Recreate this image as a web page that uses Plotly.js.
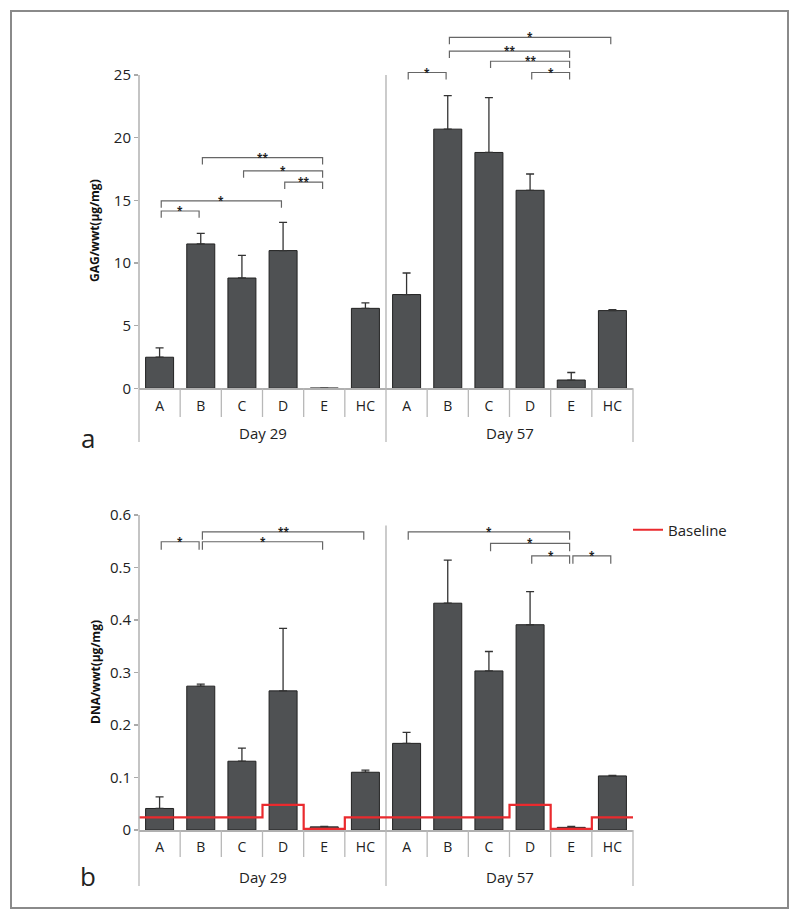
<!DOCTYPE html>
<html>
<head>
<meta charset="utf-8">
<script src="https://cdn.plot.ly/plotly-3.0.1.min.js"></script>
<style>html,body{margin:0;padding:0;background:#fff;}#chart{width:800px;height:920px;}</style>
</head>
<body>
<div id="chart"></div>
<script>
// ---------- data ----------
const groups = ['Day 29', 'Day 57'];
const categories = ['A', 'B', 'C', 'D', 'E', 'HC'];

const gagDay29 = [2.48, 11.52, 8.8, 10.99, 0.02, 6.38];
const gagDay29Err = [0.75, 0.85, 1.8, 2.25, 0.0, 0.43];
const gagDay57 = [7.48, 20.68, 18.82, 15.8, 0.66, 6.2];
const gagDay57Err = [1.72, 2.67, 4.37, 1.3, 0.6, 0.08];

const dnaDay29 = [0.041, 0.274, 0.131, 0.265, 0.006, 0.110];
const dnaDay29Err = [0.022, 0.004, 0.025, 0.119, 0.001, 0.004];
const dnaDay57 = [0.165, 0.432, 0.303, 0.391, 0.005, 0.103];
const dnaDay57Err = [0.021, 0.082, 0.037, 0.063, 0.002, 0.001];

const baselineByCategory = [0.024, 0.024, 0.024, 0.048, 0.002, 0.024];

// significance brackets: [group index, from, to, level, label]
const gagBrackets = [
  [0, 'A', 'B', 14.15, '*'],
  [0, 'A', 'D', 14.95, '*'],
  [0, 'D', 'E', 16.45, '**'],
  [0, 'C', 'E', 17.35, '*'],
  [0, 'B', 'E', 18.4, '**'],
  [1, 'A', 'B', 25.2, '*'],
  [1, 'D', 'E', 25.2, '*'],
  [1, 'C', 'E', 26.1, '**'],
  [1, 'B', 'E', 26.9, '**'],
  [1, 'B', 'HC', 28.0, '*']
];
const dnaBrackets = [
  [0, 'A', 'B', 0.549, '*'],
  [0, 'B', 'E', 0.549, '*'],
  [0, 'B', 'HC', 0.568, '**'],
  [1, 'A', 'E', 0.568, '*'],
  [1, 'C', 'E', 0.546, '*'],
  [1, 'D', 'E', 0.522, '*'],
  [1, 'E', 'HC', 0.522, '*']
];

// ---------- layout helpers ----------
const W = 800, H = 920;
const px = v => v / W;
const py = v => 1 - v / H;
const FONT = 'Open Sans, sans-serif';
const nCat = categories.length;
const nAll = nCat * groups.length;
const xDom = [px(139), px(633)];
const xRange = [-0.5, nAll - 0.5];
const pos = (g, c) => g * nCat + categories.indexOf(c);
const allX = [];
groups.forEach((g, gi) => categories.forEach((c, ci) => allX.push(gi * nCat + ci)));
const xPaper = b => xDom[0] + (b - xRange[0]) / (xRange[1] - xRange[0]) * (xDom[1] - xDom[0]);

const barStyle = {color: '#4f5153', line: {color: '#222', width: 1}};
const errStyle = {type: 'data', symmetric: false, color: '#333', thickness: 1.3, width: 4};

function barTrace(vals, errs, xa, ya) {
  return {
    type: 'bar', x: allX, y: vals, xaxis: xa, yaxis: ya, width: 0.68,
    marker: barStyle, showlegend: false, hoverinfo: 'y',
    error_y: Object.assign({}, errStyle, {array: errs, arrayminus: errs.map(() => 0)})
  };
}

const baseAll = baselineByCategory.concat(baselineByCategory);
const traces = [
  barTrace(gagDay29.concat(gagDay57), gagDay29Err.concat(gagDay57Err), 'x', 'y'),
  barTrace(dnaDay29.concat(dnaDay57), dnaDay29Err.concat(dnaDay57Err), 'x2', 'y2'),
  {
    type: 'scatter', mode: 'lines', name: 'Baseline', xaxis: 'x2', yaxis: 'y2',
    x: [xRange[0]].concat(allX, [xRange[1]]),
    y: [baseAll[0]].concat(baseAll, [baseAll[baseAll.length - 1]]),
    line: {color: '#ea2a2e', width: 2.2, shape: 'hvh'}
  }
];

const shapes = [];
const annotations = [];

// outer frame
shapes.push({type: 'rect', xref: 'paper', yref: 'paper', x0: px(11), x1: px(788), y0: py(11), y1: py(908),
  line: {color: '#8a8a8a', width: 2}});

function panel(ya, yTop, zeroPx, catLabelPx, dayPx, letter, letterPx, brackets, tick, divTop, title, titleCenterPx) {
  const xa = 'x' + (ya === 'y' ? '' : '2');
  // y axis line (0 .. top label)
  shapes.push({type: 'line', xref: 'paper', yref: ya, x0: xDom[0], x1: xDom[0], y0: 0, y1: yTop,
    line: {color: '#b0b0b0', width: 1.5}});
  // group divider inside plot
  shapes.push({type: 'line', xref: xa, yref: ya, x0: nCat - 0.5, x1: nCat - 0.5, y0: 0, y1: divTop,
    line: {color: '#b0b0b0', width: 1.3}, layer: 'below'});
  // category dividers below the axis
  for (let b = 0; b <= nAll; b++) {
    const isGroup = b % nCat === 0;
    const bottom = isGroup ? dayPx + 9 : catLabelPx + 13;
    shapes.push({type: 'line', xref: 'paper', yref: 'paper', x0: xPaper(b - 0.5), x1: xPaper(b - 0.5),
      y0: py(zeroPx), y1: py(bottom), line: {color: '#b8b8b8', width: 1.3}});
  }
  // group labels
  groups.forEach((g, gi) => annotations.push({
    xref: xa, yref: 'paper', x: gi * nCat + (nCat - 1) / 2, y: py(dayPx),
    text: g, showarrow: false, yanchor: 'middle', font: {family: FONT, size: 15, color: '#222'}
  }));
  // panel letter
  annotations.push({xref: 'paper', yref: 'paper', x: px(88), y: py(letterPx), text: letter, showarrow: false,
    xanchor: 'center', yanchor: 'middle', font: {family: FONT, size: 26, color: '#222'}});
  // y title
  annotations.push({xref: 'paper', yref: 'paper', x: px(95), y: py(titleCenterPx), text: '<b>' + title + '</b>',
    textangle: -90, showarrow: false, xanchor: 'center', yanchor: 'middle', font: {family: FONT, size: 12, color: '#111'}});
  // significance brackets
  brackets.forEach(([g, a, b, lvl, lab]) => {
    const x1 = pos(g, a) + 0.04, x2 = pos(g, b) - 0.04;
    shapes.push({type: 'path', xref: xa, yref: ya,
      path: `M ${x1} ${lvl - tick} L ${x1} ${lvl} L ${x2} ${lvl} L ${x2} ${lvl - tick}`,
      line: {color: '#666', width: 1.2}});
    annotations.push({xref: xa, yref: ya, x: (x1 + x2) / 2, y: lvl, text: '<b>' + lab + '</b>', showarrow: false,
      yanchor: 'middle', yshift: 1, font: {family: FONT, size: 10, color: '#222'}});
  });
}

panel('y', 25, 388.3, 404, 433, 'a', 438, gagBrackets, 0.55, 25, 'GAG/wwt(μg/mg)', 231);
panel('y2', 0.6, 830, 844, 877, 'b', 876, dnaBrackets, 0.015, 0.58, 'DNA/wwt(μg/mg)', 672);

const xCommon = {
  domain: xDom, range: xRange, tickvals: allX, ticktext: allX.map(i => categories[i % nCat]),
  ticks: '', showgrid: false, zeroline: false, showline: true, linecolor: '#b0b0b0', linewidth: 1.5,
  tickfont: {family: FONT, size: 14, color: '#222'}, ticklabelstandoff: 4, fixedrange: true
};
const yCommon = {
  showgrid: false, zeroline: false, showline: false, ticks: 'outside', ticklen: 4, tickcolor: '#aaa',
  tickwidth: 1.2, tickfont: {family: FONT, size: 15, color: '#222'}, fixedrange: true
};

const layout = {
  width: W, height: H, margin: {l: 0, r: 0, t: 0, b: 0},
  paper_bgcolor: '#fff', plot_bgcolor: 'rgba(0,0,0,0)',
  font: {family: FONT},
  xaxis: Object.assign({}, xCommon, {anchor: 'y'}),
  yaxis: Object.assign({}, yCommon, {anchor: 'x', domain: [py(388.3), py(29.9)], range: [0, 28.6],
    tickvals: [0, 5, 10, 15, 20, 25]}),
  xaxis2: Object.assign({}, xCommon, {anchor: 'y2'}),
  yaxis2: Object.assign({}, yCommon, {anchor: 'x2', domain: [py(830), py(515)], range: [0, 0.6],
    tickvals: [0, 0.1, 0.2, 0.3, 0.4, 0.5, 0.6]}),
  showlegend: true,
  legend: {x: px(628), y: py(530), xanchor: 'left', yanchor: 'middle', bgcolor: 'rgba(0,0,0,0)',
    font: {family: FONT, size: 15, color: '#222'}},
  shapes: shapes,
  annotations: annotations,
  bargap: 0.3
};

Plotly.newPlot('chart', traces, layout, {displayModeBar: false, staticPlot: true});
</script>
</body>
</html>
